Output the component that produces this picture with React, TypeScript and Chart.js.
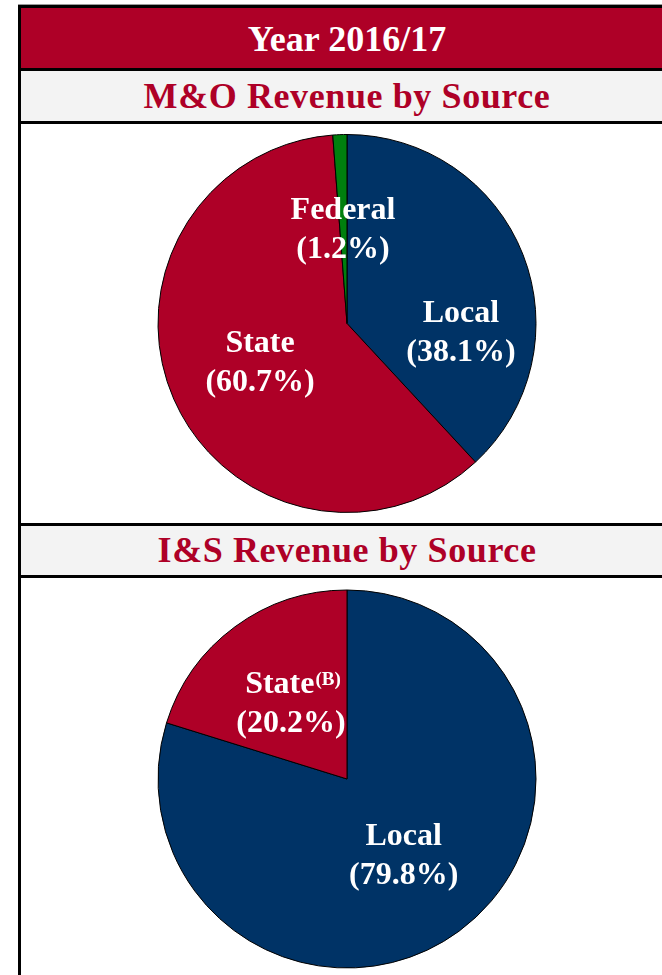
import React, { useEffect, useRef } from 'react';
import { Chart, registerables } from 'chart.js';

Chart.register(...registerables);

// ---- Data ----
const headerTitle = 'Year 2016/17';

const mnoTitle = 'M&O Revenue by Source';
const mnoCategories = ['Local', 'State', 'Federal'];
const mnoValues = [38.1, 60.7, 1.2];
const mnoSuperscripts = ['', '', ''];

const insTitle = 'I&S Revenue by Source';
const insCategories = ['Local', 'State'];
const insValues = [79.8, 20.2];
const insSuperscripts = ['', '(B)'];

// ---- Styles ----
const CRIMSON = '#AE0027';
const NAVY = '#003366';
const GREEN = '#007F0E';
const GRAY_BG = '#F3F3F3';
const FONT = '"Liberation Serif", "Times New Roman", serif';

const mnoColors = [NAVY, CRIMSON, GREEN];
const insColors = [NAVY, CRIMSON];

// label anchor offsets as fractions of radius (dx, dy) from pie centre
const mnoLabelOffsets = [
  [0.603, 0.095],
  [-0.46, 0.254],
  [-0.021, -0.45],
];
const insLabelOffsets = [
  [0.30, 0.455],
  [-0.286, -0.354],
];

const labelPlugin = {
  id: 'sliceLabels',
  afterDatasetsDraw(chart: any) {
    const opts = chart.options.plugins.sliceLabels;
    if (!opts) return;
    const meta = chart.getDatasetMeta(0);
    const ds = chart.data.datasets[0];
    const ctx = chart.ctx;
    ctx.save();
    ctx.fillStyle = '#FFFFFF';
    ctx.textAlign = 'left';
    ctx.textBaseline = 'alphabetic';
    meta.data.forEach((arc: any, i: number) => {
      const r = arc.outerRadius;
      const [fx, fy] = opts.offsets[i];
      const cx = arc.x + fx * r;
      const cy = arc.y + fy * r;
      const name = chart.data.labels[i];
      const sup = opts.superscripts[i] || '';
      const pct = '(' + Number(ds.data[i]).toFixed(1) + '%)';
      const lh = opts.lineGap;
      // line 1
      ctx.font = 'bold 32px ' + FONT;
      const w1 = ctx.measureText(name).width;
      ctx.font = 'bold 19px ' + FONT;
      const ws = sup ? ctx.measureText(sup).width + 1 : 0;
      const total = w1 + ws;
      const x1 = cx - total / 2;
      const b1 = cy - lh / 2;
      ctx.font = 'bold 32px ' + FONT;
      ctx.fillText(name, x1, b1);
      if (sup) {
        ctx.font = 'bold 19px ' + FONT;
        ctx.fillText(sup, x1 + w1 + 1, b1 - 8);
      }
      // line 2
      ctx.font = 'bold 32px ' + FONT;
      const w2 = ctx.measureText(pct).width;
      ctx.fillText(pct, cx - w2 / 2 - (sup ? 2 : 0), b1 + lh);
    });
    ctx.restore();
  },
};

function PieChart(props: {
  width: number;
  height: number;
  labels: string[];
  values: number[];
  colors: string[];
  offsets: number[][];
  superscripts: string[];
}) {
  const ref = useRef<HTMLCanvasElement | null>(null);
  useEffect(() => {
    if (!ref.current) return;
    const chart = new Chart(ref.current, {
      type: 'pie',
      data: {
        labels: props.labels,
        datasets: [
          {
            data: props.values,
            backgroundColor: props.colors,
            borderColor: '#000000',
            borderWidth: 1,
            radius: 189,
          } as any,
        ],
      },
      options: {
        responsive: false,
        animation: false,
        events: [],
        layout: { padding: 0 },
        plugins: {
          legend: { display: false },
          tooltip: { enabled: false },
          title: { display: false },
          sliceLabels: {
            offsets: props.offsets,
            superscripts: props.superscripts,
            lineGap: 39,
          },
        } as any,
      },
      plugins: [labelPlugin],
    });
    return () => chart.destroy();
  }, []);
  return (
    <canvas
      ref={ref}
      width={props.width}
      height={props.height}
      style={{ display: 'block', width: props.width, height: props.height }}
    />
  );
}

const blackLine: React.CSSProperties = { height: 3, background: '#000' };

function SubTitle({ text, height }: { text: string; height: number }) {
  return (
    <div
      style={{
        height,
        lineHeight: height + 'px',
        background: GRAY_BG,
        color: CRIMSON,
        fontFamily: FONT,
        fontWeight: 'bold',
        fontSize: 36,
        letterSpacing: 0.6,
        textAlign: 'center',
        whiteSpace: 'nowrap',
      }}
    >
      {text}
    </div>
  );
}

export default function App() {
  const innerW = 652;
  return (
    <div
      style={{
        position: 'absolute',
        left: 18,
        top: 4,
        width: 644,
        height: 971,
        overflow: 'hidden',
        background: '#fff',
      }}
    >
      <div style={{ height: 1, background: '#9a9a9a', width: 700 }} />
      <div
        style={{
          width: innerW,
          borderLeft: '3px solid #000',
          borderTop: '3px solid #000',
        }}
      >
        <div
          style={{
            height: 60,
            lineHeight: '62px',
            background: CRIMSON,
            color: '#fff',
            fontFamily: FONT,
            fontWeight: 'bold',
            fontSize: 36,
            textAlign: 'center',
            whiteSpace: 'nowrap',
          }}
        >
          {headerTitle}
        </div>
        <div style={blackLine} />
        <SubTitle text={mnoTitle} height={50} />
        <div style={blackLine} />
        <PieChart
          width={innerW}
          height={399}
          labels={mnoCategories}
          values={mnoValues}
          colors={mnoColors}
          offsets={mnoLabelOffsets}
          superscripts={mnoSuperscripts}
        />
        <div style={blackLine} />
        <SubTitle text={insTitle} height={49} />
        <div style={blackLine} />
        <PieChart
          width={innerW}
          height={402}
          labels={insCategories}
          values={insValues}
          colors={insColors}
          offsets={insLabelOffsets}
          superscripts={insSuperscripts}
        />
      </div>
    </div>
  );
}
